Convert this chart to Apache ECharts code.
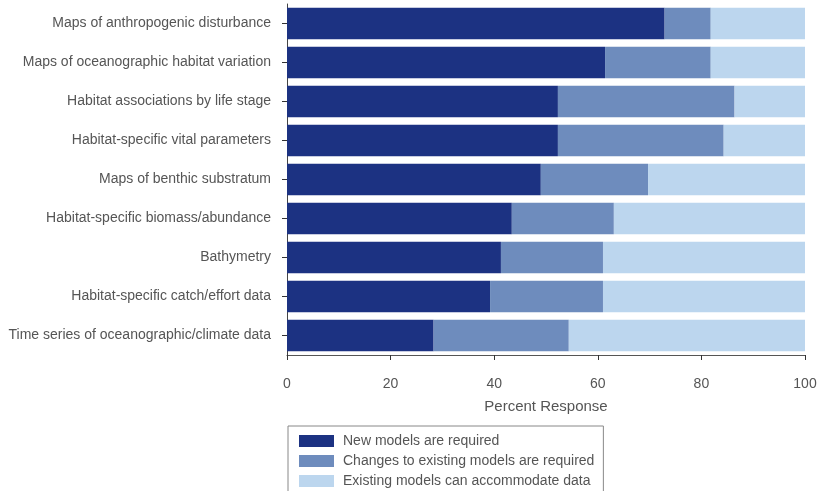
<!DOCTYPE html>
<html>
<head>
<meta charset="utf-8">
<script src="https://cdn.jsdelivr.net/npm/echarts@6/dist/echarts.min.js"></script>
<style>html,body{margin:0;padding:0;background:#fff}#c{width:827px;height:491px}</style>
</head>
<body>
<div id="c"></div>
<script>
const categories = [
  "Maps of anthropogenic disturbance",
  "Maps of oceanographic habitat variation",
  "Habitat associations by life stage",
  "Habitat-specific vital parameters",
  "Maps of benthic substratum",
  "Habitat-specific biomass/abundance",
  "Bathymetry",
  "Habitat-specific catch/effort data",
  "Time series of oceanographic/climate data"
];
const seriesNames = [
  "New models are required",
  "Changes to existing models are required",
  "Existing models can accommodate data"
];
const newModels      = [72.9, 61.4, 52.3, 52.3, 49.0, 43.4, 41.3, 39.2, 28.3];
const changesModels  = [8.9, 20.4, 34.1, 32.0, 20.7, 19.7, 19.7, 21.8, 26.1];
const existingModels = [18.2, 18.2, 13.6, 15.7, 30.3, 36.9, 39.0, 39.0, 45.6];
const xTicks = [0, 20, 40, 60, 80, 100];
const xTitle = "Percent Response";

const colors = ["#1c3282", "#6e8cbd", "#bcd6ee"];
const font = "'Liberation Sans', Arial, sans-serif";
const dataSets = [newModels, changesModels, existingModels];

const chart = echarts.init(document.getElementById('c'), null, {renderer: 'canvas'});
chart.setOption({
  animation: false,
  backgroundColor: '#fff',
  grid: {left: 287, right: 22, top: 4, bottom: 136, containLabel: false},
  legend: {
    orient: 'vertical',
    left: 288, top: 426,
    height: 120,
    padding: [8, 9, 12, 11],
    itemWidth: 35, itemHeight: 12, itemGap: 6,
    borderColor: '#888', borderWidth: 1, borderRadius: 0,
    icon: 'rect',
    textStyle: {fontFamily: font, fontSize: 14, color: '#555', lineHeight: 12, padding: [0, 0, 0, 4]},
    data: seriesNames
  },
  xAxis: {
    type: 'value',
    min: xTicks[0], max: xTicks[xTicks.length - 1], interval: xTicks[1] - xTicks[0],
    name: xTitle, nameLocation: 'middle', nameGap: 44,
    nameTextStyle: {fontFamily: font, fontSize: 15, color: '#555'},
    axisLine: {show: true, lineStyle: {color: '#555', width: 1}},
    axisTick: {show: true, length: 5, lineStyle: {color: '#333'}},
    axisLabel: {fontFamily: font, fontSize: 14, color: '#555', margin: 22},
    splitLine: {show: false}
  },
  yAxis: {
    type: 'category',
    inverse: true,
    data: categories,
    axisLine: {show: true, lineStyle: {color: '#444', width: 1}},
    axisTick: {show: true, alignWithLabel: true, length: 5, lineStyle: {color: '#333'}},
    axisLabel: {fontFamily: font, fontSize: 14, color: '#555', margin: 16}
  },
  series: seriesNames.map((n, i) => ({
    name: n,
    type: 'bar',
    stack: 'total',
    barCategoryGap: '19%',
    itemStyle: {color: colors[i]},
    data: dataSets[i]
  }))
});
</script>
</body>
</html>
